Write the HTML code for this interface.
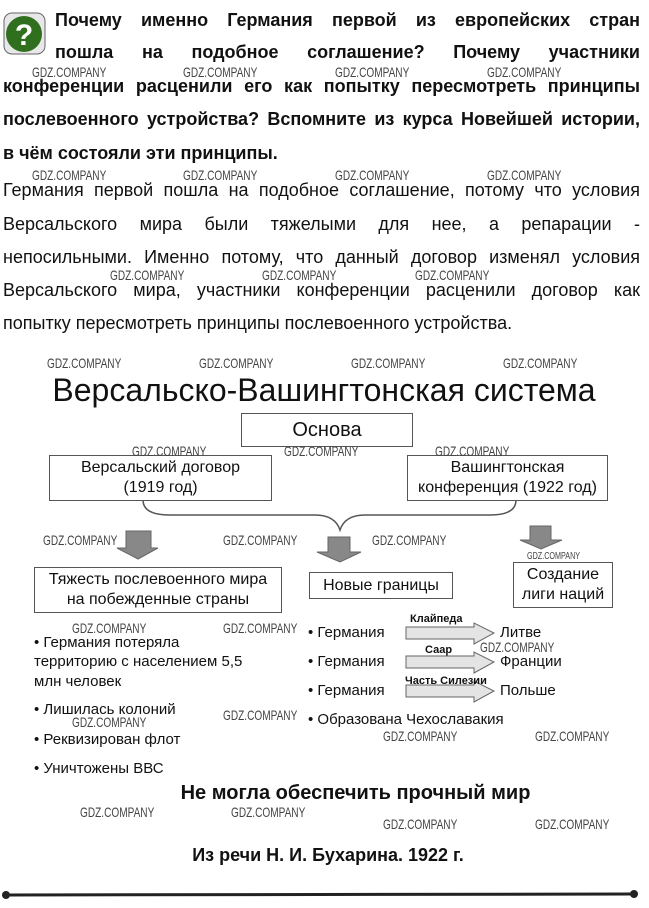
<!DOCTYPE html>
<html><head><meta charset="utf-8"><style>
body{margin:0;width:649px;height:908px;background:#fff;position:relative;overflow:hidden;font-family:"Liberation Sans","DejaVu Sans",sans-serif;color:#111}
.a{position:absolute;white-space:nowrap}
.j{position:absolute;white-space:nowrap;text-align:justify;text-align-last:justify}
.q{font-weight:bold;font-size:18px;line-height:20px}
.t{font-size:18px;line-height:20px}
.box{position:absolute;border:1.5px solid #555;box-sizing:border-box;text-align:center;font-size:16px;line-height:20px;display:flex;align-items:center;justify-content:center;background:#fff}
.w{position:absolute;font-size:14px;color:#444;transform:scaleX(0.72);transform-origin:left;white-space:nowrap;letter-spacing:0}
.li{position:absolute;font-size:15px;white-space:nowrap;line-height:18px}
</style></head><body>
<svg class="a" style="left:3px;top:12px" width="44" height="44">
<rect x="1" y="1" width="41" height="41" rx="8" fill="#e8e8e8" stroke="#666"/>
<circle cx="21" cy="22" r="18" fill="#2f6f1e"/>
<text x="21" y="33" text-anchor="middle" font-family="Liberation Sans" font-weight="bold" font-size="30" fill="#fff">?</text>
</svg>
<div class="j q" style="left:55px;top:10px;width:585px">Почему именно Германия первой из европейских стран</div>
<div class="j q" style="left:55px;top:42px;width:585px">пошла на подобное соглашение? Почему участники</div>
<div class="j q" style="left:3px;top:76px;width:637px">конференции расценили его как попытку пересмотреть принципы</div>
<div class="j q" style="left:3px;top:109px;width:637px">послевоенного устройства? Вспомните из курса Новейшей истории,</div>
<div class="a q" style="left:3px;top:143px">в чём состояли эти принципы.</div>
<div class="j t" style="left:3px;top:180px;width:637px">Германия первой пошла на подобное соглашение, потому что условия</div>
<div class="j t" style="left:3px;top:214px;width:637px">Версальского мира были тяжелыми для нее, а репарации -</div>
<div class="j t" style="left:3px;top:247px;width:637px">непосильными. Именно потому, что данный договор изменял условия</div>
<div class="j t" style="left:3px;top:280px;width:637px">Версальского мира, участники конференции расценили договор как</div>
<div class="a t" style="left:3px;top:313px">попытку пересмотреть принципы послевоенного устройства.</div>

<div class="a" style="left:40px;top:371px;font-size:32px;line-height:38px;width:568px;text-align:center">Версальско-Вашингтонская система</div>

<div class="box" style="left:241px;top:413px;width:172px;height:34px;font-size:20px">Основа</div>
<div class="box" style="left:49px;top:455px;width:223px;height:46px">Версальский договор<br>(1919 год)</div>
<div class="box" style="left:407px;top:455px;width:201px;height:46px">Вашингтонская<br>конференция (1922 год)</div>
<svg class="a" style="left:0;top:495px" width="649" height="75">
<path d="M143 5 Q143 20 170 20 L315 20 Q335 20 340 35 Q345 20 365 20 L490 20 Q516 20 516 5" fill="none" stroke="#555" stroke-width="1.5"/>
<g fill="#888" stroke="#666" stroke-width="1">
<path d="M126 36 H151 V53 H158 L138 64 L117 53 H126Z"/>
<path d="M328 42 H350 V57 H361 L340 67 L317 57 H328Z"/>
<path d="M530 31 H551 V45 H562 L541 54 L520 45 H530Z"/>
</g>
</svg>
<div class="box" style="left:34px;top:567px;width:248px;height:46px">Тяжесть послевоенного мира<br>на побежденные страны</div>
<div class="box" style="left:309px;top:572px;width:144px;height:27px">Новые границы</div>
<div class="box" style="left:513px;top:562px;width:100px;height:46px;font-size:16px">Создание<br>лиги наций</div>

<div class="li" style="left:34px;top:634px">• Германия потеряла</div>
<div class="li" style="left:34px;top:653px">территорию с населением 5,5</div>
<div class="li" style="left:34px;top:673px">млн человек</div>
<div class="li" style="left:34px;top:701px">• Лишилась колоний</div>
<div class="li" style="left:34px;top:731px">• Реквизирован флот</div>
<div class="li" style="left:34px;top:760px">• Уничтожены ВВС</div>

<div class="li" style="left:308px;top:624px">• Германия</div>
<div class="li" style="left:308px;top:653px">• Германия</div>
<div class="li" style="left:308px;top:682px">• Германия</div>
<div class="li" style="left:308px;top:711px">• Образована Чехославакия</div>
<svg class="a" style="left:400px;top:615px" width="100" height="90">
<g fill="#e4e4e4" stroke="#666" stroke-width="1">
<path d="M6 12 H74 V8 L94 18 L74 29 V24 H6Z"/>
<path d="M6 41 H74 V37 L94 47 L74 58 V53 H6Z"/>
<path d="M6 70 H74 V66 L94 76 L74 87 V82 H6Z"/>
</g></svg>
<div class="a" style="left:410px;top:613px;font-size:11px;font-weight:bold">Клайпеда</div>
<div class="a" style="left:425px;top:644px;font-size:11px;font-weight:bold">Саар</div>
<div class="a" style="left:405px;top:675px;font-size:11px;font-weight:bold">Часть Силезии</div>
<div class="li" style="left:500px;top:624px">Литве</div>
<div class="li" style="left:500px;top:653px">Франции</div>
<div class="li" style="left:500px;top:682px">Польше</div>

<div class="a" style="left:164px;top:782px;font-size:20px;font-weight:bold;width:383px;text-align:center">Не могла обеспечить прочный мир</div>
<div class="a" style="left:168px;top:845px;font-size:18px;font-weight:bold;width:320px;text-align:center">Из речи Н. И. Бухарина. 1922 г.</div>
<svg class="a" style="left:0;top:888px" width="649" height="16">
<line x1="6" y1="7" x2="634" y2="6" stroke="#222" stroke-width="3"/>
<circle cx="6" cy="7" r="4" fill="#222"/><circle cx="634" cy="6" r="4" fill="#222"/>
</svg>

<div class="w" style="left:32px;top:64px">GDZ.COMPANY</div><div class="w" style="left:183px;top:64px">GDZ.COMPANY</div><div class="w" style="left:335px;top:64px">GDZ.COMPANY</div><div class="w" style="left:487px;top:64px">GDZ.COMPANY</div>
<div class="w" style="left:32px;top:167px">GDZ.COMPANY</div><div class="w" style="left:183px;top:167px">GDZ.COMPANY</div><div class="w" style="left:335px;top:167px">GDZ.COMPANY</div><div class="w" style="left:487px;top:167px">GDZ.COMPANY</div>
<div class="w" style="left:110px;top:267px">GDZ.COMPANY</div><div class="w" style="left:262px;top:267px">GDZ.COMPANY</div><div class="w" style="left:415px;top:267px">GDZ.COMPANY</div>
<div class="w" style="left:47px;top:355px">GDZ.COMPANY</div><div class="w" style="left:199px;top:355px">GDZ.COMPANY</div><div class="w" style="left:351px;top:355px">GDZ.COMPANY</div><div class="w" style="left:503px;top:355px">GDZ.COMPANY</div>
<div class="w" style="left:132px;top:443px">GDZ.COMPANY</div><div class="w" style="left:284px;top:443px">GDZ.COMPANY</div><div class="w" style="left:435px;top:443px">GDZ.COMPANY</div>
<div class="w" style="left:43px;top:532px">GDZ.COMPANY</div><div class="w" style="left:223px;top:532px">GDZ.COMPANY</div><div class="w" style="left:372px;top:532px">GDZ.COMPANY</div>
<div class="w" style="left:527px;top:551px;font-size:10px">GDZ.COMPANY</div>
<div class="w" style="left:72px;top:620px">GDZ.COMPANY</div><div class="w" style="left:223px;top:620px">GDZ.COMPANY</div><div class="w" style="left:480px;top:639px">GDZ.COMPANY</div>
<div class="w" style="left:72px;top:714px">GDZ.COMPANY</div><div class="w" style="left:223px;top:707px">GDZ.COMPANY</div>
<div class="w" style="left:383px;top:728px">GDZ.COMPANY</div><div class="w" style="left:535px;top:728px">GDZ.COMPANY</div>
<div class="w" style="left:80px;top:804px">GDZ.COMPANY</div><div class="w" style="left:231px;top:804px">GDZ.COMPANY</div>
<div class="w" style="left:383px;top:816px">GDZ.COMPANY</div><div class="w" style="left:535px;top:816px">GDZ.COMPANY</div>
</body></html>
